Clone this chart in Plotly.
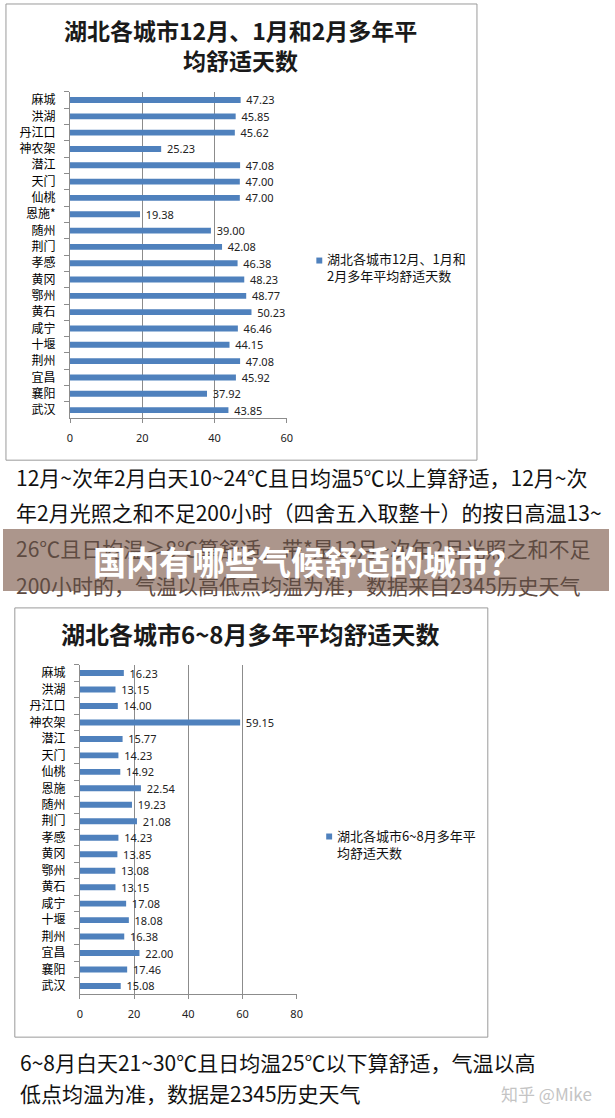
import plotly.graph_objects as go

W, H = 615, 1118

# ---------------- data ----------------
cities_winter = ["麻城", "洪湖", "丹江口", "神农架", "潜江", "天门", "仙桃", "恩施*", "随州", "荆门",
                 "孝感", "黄冈", "鄂州", "黄石", "咸宁", "十堰", "荆州", "宜昌", "襄阳", "武汉"]
winter_days = [47.23, 45.85, 45.62, 25.23, 47.08, 47.00, 47.00, 19.38, 39.00, 42.08,
               46.38, 48.23, 48.77, 50.23, 46.46, 44.15, 47.08, 45.92, 37.92, 43.85]

cities_summer = ["麻城", "洪湖", "丹江口", "神农架", "潜江", "天门", "仙桃", "恩施", "随州", "荆门",
                 "孝感", "黄冈", "鄂州", "黄石", "咸宁", "十堰", "荆州", "宜昌", "襄阳", "武汉"]
summer_days = [16.23, 13.15, 14.00, 59.15, 15.77, 14.23, 14.92, 22.54, 19.23, 21.08,
               14.23, 13.85, 13.08, 13.15, 17.08, 18.08, 16.38, 22.00, 17.46, 15.08]

winter_ticks = [0, 20, 40, 60]
summer_ticks = [0, 20, 40, 60, 80]

winter_title = ["湖北各城市12月、1月和2月多年平", "均舒适天数"]
winter_legend = "湖北各城市12月、1月和<br>2月多年平均舒适天数"
summer_title = "湖北各城市6~8月多年平均舒适天数"
summer_legend = "湖北各城市6~8月多年平<br>均舒适天数"

note_top = [
    "12月~次年2月白天10~24℃且日均温5℃以上算舒适，12月~次",
    "年2月光照之和不足200小时（四舍五入取整十）的按日高温13~",
    "26℃且日均温≥8℃算舒适，带*是12月~次年2月光照之和不足",
    "200小时的，气温以高低点均温为准，数据来自2345历史天气",
]
note_bottom = [
    "6~8月白天21~30℃且日均温25℃以下算舒适，气温以高",
    "低点均温为准，数据是2345历史天气",
]
banner_text = "国内有哪些气候舒适的城市？"
watermark = "知乎 @Mike"

# ---------------- helpers ----------------
def px(x):
    return x / W

def py(y):
    return 1 - y / H

BLUE = "#4F81BD"
GRID = "#8C8C8C"
CJK = "Noto Sans CJK SC"

fig = go.Figure()

fig.add_trace(go.Bar(
    x=winter_days, y=cities_winter, orientation="h",
    marker=dict(color=BLUE, line=dict(width=0)),
    texttemplate="\u00a0\u00a0%{x:.2f}", textposition="outside",
    textfont=dict(family="Noto Sans", size=11, color="#222"),
    constraintext="none", cliponaxis=False,
    xaxis="x", yaxis="y", showlegend=False, hoverinfo="skip",
))
fig.add_trace(go.Bar(
    x=summer_days, y=cities_summer, orientation="h",
    marker=dict(color=BLUE, line=dict(width=0)),
    texttemplate="\u00a0\u00a0%{x:.2f}", textposition="outside",
    textfont=dict(family="Noto Sans", size=11, color="#222"),
    constraintext="none", cliponaxis=False,
    xaxis="x2", yaxis="y2", showlegend=False, hoverinfo="skip",
))

xcommon = dict(showgrid=True, gridcolor=GRID, gridwidth=1, zeroline=False,
               showline=True, linecolor=GRID, linewidth=1,
               ticks="outside", ticklen=4, tickcolor=GRID,
               tickfont=dict(family="Noto Sans", size=11, color="#222"),
               ticklabelstandoff=6, fixedrange=True)
ycommon = dict(type="category", autorange="reversed", showgrid=False, zeroline=False,
               showline=True, linecolor=GRID, linewidth=1,
               ticks="outside", ticklen=5, tickcolor=GRID, tickson="boundaries",
               tickfont=dict(family=CJK, size=12, color="#000"),
               ticklabelstandoff=11, fixedrange=True)

fig.update_layout(
    width=W, height=H, margin=dict(l=0, r=0, t=0, b=0),
    paper_bgcolor="white", plot_bgcolor="rgba(0,0,0,0)",
    bargap=0.64, showlegend=False,
    xaxis=dict(domain=[px(68), px(288)], range=[0, 60], tickvals=winter_ticks,
               anchor="y", **xcommon),
    yaxis=dict(domain=[py(417), py(90)], anchor="x", **ycommon),
    xaxis2=dict(domain=[px(78), px(298)], range=[0, 80], tickvals=summer_ticks,
                anchor="y2", **xcommon),
    yaxis2=dict(domain=[py(994), py(664)], anchor="x2", **ycommon),
)

shapes = []
annos = []

# frames
shapes.append(dict(type="rect", xref="paper", yref="paper", x0=px(3), x1=px(481), y0=py(459), y1=py(2),
                   line=dict(color="#9A9A9A", width=1), fillcolor="rgba(0,0,0,0)", layer="below"))
shapes.append(dict(type="rect", xref="paper", yref="paper", x0=px(12), x1=px(492), y0=py(1037), y1=py(607),
                   line=dict(color="#9A9A9A", width=1), fillcolor="rgba(0,0,0,0)", layer="below"))

# titles
for line, yy in zip(winter_title, [28, 58]):
    annos.append(dict(text=f"<b>{line}</b>", x=px(241), y=py(yy), xref="paper", yref="paper",
                      xanchor="center", yanchor="middle", showarrow=False,
                      font=dict(family=CJK, size=23, color="#1a1a1a")))
annos.append(dict(text=f"<b>{summer_title}</b>", x=px(251), y=py(633), xref="paper", yref="paper",
                  xanchor="center", yanchor="middle", showarrow=False,
                  font=dict(family=CJK, size=24, color="#1a1a1a")))

# legends
shapes.append(dict(type="rect", xref="paper", yref="paper", x0=px(318), x1=px(324), y0=py(262), y1=py(256),
                   fillcolor=BLUE, line=dict(width=0)))
annos.append(dict(text=winter_legend, x=px(327), y=py(265), xref="paper", yref="paper",
                  xanchor="left", yanchor="middle", showarrow=False, align="left",
                  font=dict(family=CJK, size=13, color="#111")))
shapes.append(dict(type="rect", xref="paper", yref="paper", x0=px(328), x1=px(334), y0=py(839), y1=py(833),
                   fillcolor=BLUE, line=dict(width=0)))
annos.append(dict(text=summer_legend, x=px(337), y=py(844), xref="paper", yref="paper",
                  xanchor="left", yanchor="middle", showarrow=False, align="left",
                  font=dict(family=CJK, size=13, color="#111")))

# notes
top_y = [476, 511, 547, 584]
for i, (line, yy) in enumerate(zip(note_top, top_y)):
    col = "#111" if i < 2 else "#5E4B42"
    annos.append(dict(text=line, x=px(11), y=py(yy), xref="paper", yref="paper",
                      xanchor="left", yanchor="middle", showarrow=False,
                      font=dict(family=CJK, size=21, color=col)))
for line, yy in zip(note_bottom, [1062, 1093]):
    annos.append(dict(text=line, x=px(15), y=py(yy), xref="paper", yref="paper",
                      xanchor="left", yanchor="middle", showarrow=False,
                      font=dict(family=CJK, size=21, color="#111")))
annos.append(dict(text=watermark, x=px(600), y=py(1093), xref="paper", yref="paper",
                  xanchor="right", yanchor="middle", showarrow=False,
                  font=dict(family=CJK, size=17, color="#C4C4C4")))

# banner
shapes.append(dict(type="rect", xref="paper", yref="paper", x0=0, x1=1, y0=py(590), y1=py(528),
                   fillcolor="rgba(140,110,95,0.72)", line=dict(width=0), layer="above"))
annos.append(dict(text=f"<b>{banner_text}</b>", x=px(309), y=py(560), xref="paper", yref="paper",
                  xanchor="center", yanchor="middle", showarrow=False,
                  font=dict(family=CJK, size=33, color="white")))

fig.update_layout(shapes=shapes, annotations=annos)
fig.write_html("out.html")
